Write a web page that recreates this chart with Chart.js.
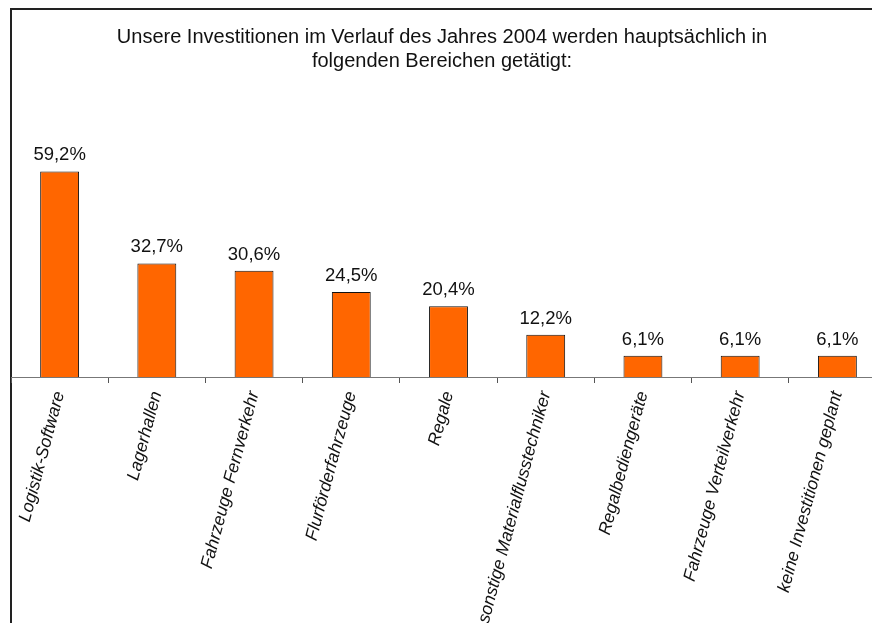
<!DOCTYPE html>
<html>
<head>
<meta charset="utf-8">
<script src="https://cdn.jsdelivr.net/npm/chart.js@4.4.1/dist/chart.umd.min.js"></script>
<style>
    html, body { margin: 0; padding: 0; background: #fff; overflow: hidden; }
    #wrap { position: relative; width: 872px; height: 623px; overflow: hidden; }
    #frame {
        position: absolute; left: 10px; top: 8px; width: 900px; height: 700px;
        border-left: 2px solid #222; border-top: 2px solid #222; box-sizing: border-box;
    }
    #chart-box { position: absolute; left: 0; top: 0; width: 900px; height: 623px; }
</style>
</head>
<body>
<div id="wrap">
    <div id="frame"></div>
    <div id="chart-box"><canvas id="invest-chart"></canvas></div>
</div>
<script>
const titleLines = [
    'Unsere Investitionen im Verlauf des Jahres 2004 werden hauptsächlich in',
    'folgenden Bereichen getätigt:'
];
const categories = [
    'Logistik-Software',
    'Lagerhallen',
    'Fahrzeuge Fernverkehr',
    'Flurförderfahrzeuge',
    'Regale',
    'sonstige Materialflusstechniker',
    'Regalbediengeräte',
    'Fahrzeuge Verteilverkehr',
    'keine Investitionen geplant'
];
const shares = [59.2, 32.7, 30.6, 24.5, 20.4, 12.2, 6.1, 6.1, 6.1];

const FONT = 'Liberation Sans, Arial, Helvetica, sans-serif';

// heading, drawn centred above the plot
const headingPlugin = {
    id: 'heading',
    afterDraw(chart) {
        const ctx = chart.ctx;
        ctx.save();
        ctx.font = '20px ' + FONT;
        ctx.fillStyle = '#111';
        ctx.textAlign = 'center';
        ctx.textBaseline = 'alphabetic';
        titleLines.forEach((line, i) => ctx.fillText(line, 442, 43 + i * 24));
        ctx.restore();
    }
};

// percentage above each bar
const valueLabels = {
    id: 'valueLabels',
    afterDatasetsDraw(chart) {
        const ctx = chart.ctx;
        const meta = chart.getDatasetMeta(0);
        ctx.save();
        ctx.font = '18.5px ' + FONT;
        ctx.fillStyle = '#111';
        ctx.textAlign = 'center';
        ctx.textBaseline = 'alphabetic';
        meta.data.forEach((bar, i) => {
            const txt = shares[i].toFixed(1).replace('.', ',') + '%';
            ctx.fillText(txt, bar.x, bar.y - 11);
        });
        ctx.restore();
    }
};

new Chart(document.getElementById('invest-chart'), {
    type: 'bar',
    data: {
        labels: categories,
        datasets: [{
            data: shares,
            backgroundColor: '#ff6600',
            borderColor: '#111',
            borderWidth: 1,
            barPercentage: 0.4,
            categoryPercentage: 1
        }]
    },
    options: {
        responsive: true,
        maintainAspectRatio: false,
        animation: false,
        layout: { padding: { top: 134, left: 11, right: 14, bottom: 0 } },
        plugins: {
            legend: { display: false },
            title: { display: false },
            tooltip: { enabled: false }
        },
        scales: {
            y: {
                display: false,
                min: 0,
                max: 70
            },
            x: {
                grid: {
                    display: true,
                    drawOnChartArea: false,
                    drawTicks: true,
                    tickLength: 6,
                    color: '#555'
                },
                border: { display: true, color: '#777', width: 1 },
                ticks: {
                    minRotation: 75,
                    maxRotation: 75,
                    autoSkip: false,
                    padding: 6,
                    color: '#111',
                    font: { family: FONT, size: 17.5, style: 'italic' }
                },
                afterFit(scale) { scale.height = 246; }
            }
        }
    },
    plugins: [headingPlugin, valueLabels]
});
</script>
</body>
</html>
